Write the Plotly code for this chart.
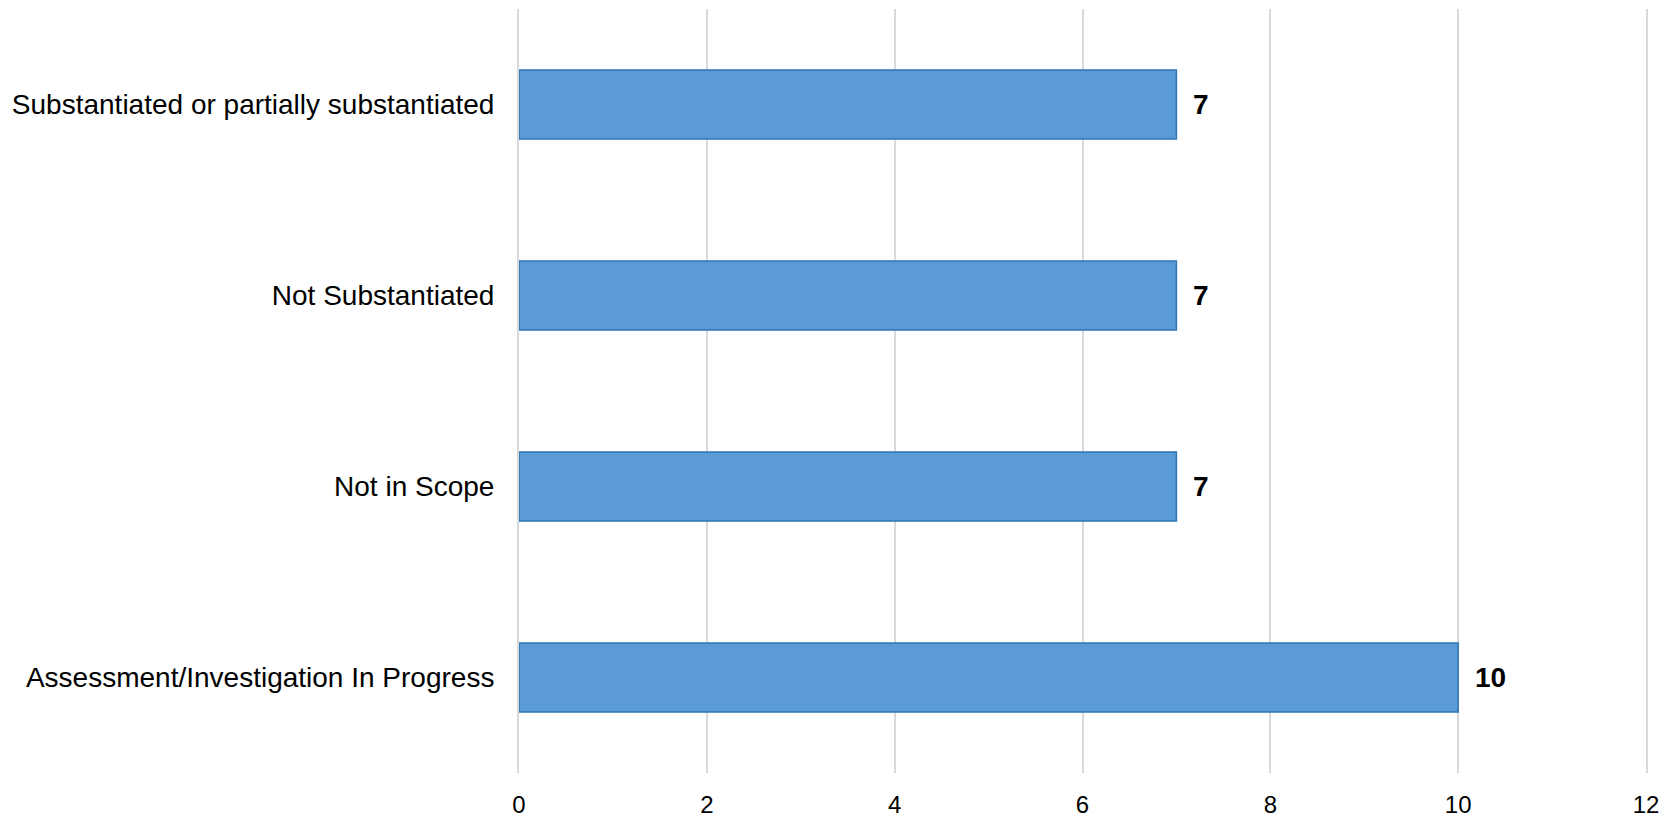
import plotly.graph_objects as go

# Complaint outcomes, listed top to bottom
categories = [
    "Substantiated or partially substantiated",
    "Not Substantiated",
    "Not in Scope",
    "Assessment/Investigation In Progress",
]
counts = [7, 7, 7, 10]
x_ticks = [0, 2, 4, 6, 8, 10, 12]

FONT = "Liberation Sans, Arial, sans-serif"
GRID = "#D9D9D9"

fig = go.Figure(
    go.Bar(
        y=categories,
        x=counts,
        orientation="h",
        marker=dict(color="#5B9BD5", line=dict(color="#2E75B6", width=1.5)),
        hoverinfo="x+y",
    )
)

# value labels to the right of each bar
for cat, val in zip(categories, counts):
    fig.add_annotation(
        x=val, y=cat, text=f"<b>{val}</b>", showarrow=False,
        xanchor="left", yanchor="middle", xshift=15,
        font=dict(family=FONT, size=28, color="#000000"),
    )

fig.update_layout(
    width=1679, height=820,
    margin=dict(l=519, r=33, t=9, b=47),
    paper_bgcolor="white", plot_bgcolor="white",
    bargap=0.64,
    showlegend=False,
    font=dict(family=FONT, color="#000000"),
)
fig.update_xaxes(
    range=[0, 12], tickvals=x_ticks, ticktext=[str(v) for v in x_ticks],
    showgrid=True, gridcolor=GRID, gridwidth=2,
    zeroline=False, showline=False, ticks="",
    ticklabelstandoff=15, automargin=False,
    tickfont=dict(family=FONT, size=24, color="#000000"),
)
# the y-axis line (mirrored) gives the grid lines at 0 and 12
fig.update_yaxes(
    categoryorder="array", categoryarray=categories, autorange="reversed",
    showgrid=False, zeroline=False,
    showline=True, linecolor=GRID, linewidth=2, mirror=True,
    ticks="", ticklabelstandoff=17, automargin=False,
    tickfont=dict(family=FONT, size=28, color="#000000"),
)

fig.write_html("out.html")
